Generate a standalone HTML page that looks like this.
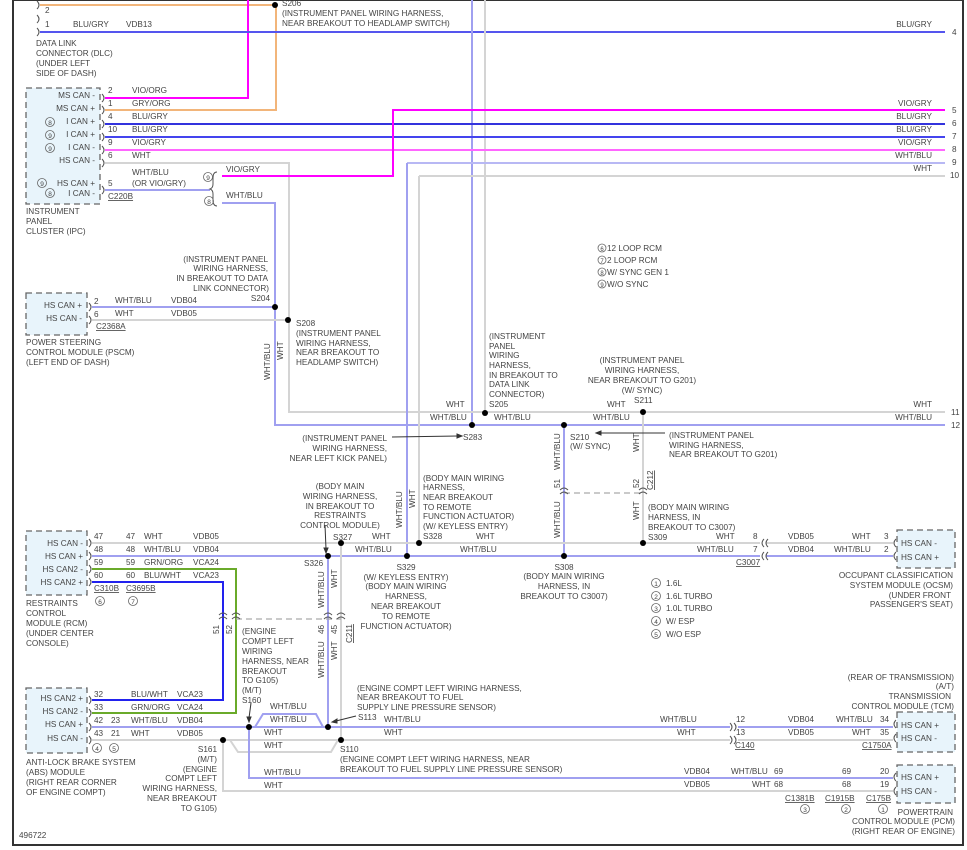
<!DOCTYPE html>
<html><head><meta charset="utf-8"><style>
html,body{margin:0;padding:0;background:#fff;}
svg{display:block;}
text{font-family:"Liberation Sans",sans-serif;font-size:8.2px;fill:#444;}
.r{text-anchor:end}.m{text-anchor:middle}
</style></head><body>
<svg width="967" height="850" viewBox="0 0 967 850" xmlns="http://www.w3.org/2000/svg">
<rect x="0" y="0" width="967" height="850" fill="#fff"/>
<!-- frame -->
<path d="M13 0V845H963V0" fill="none" stroke="#333" stroke-width="2"/>
<line x1="13" y1="0.5" x2="963" y2="0.5" stroke="#333" stroke-width="1"/>

<g fill="none" stroke-width="2">
<!-- top orange -->
<path d="M40 5H275" stroke="#f2b57a"/>
<path d="M105 110H276V5" stroke="#f2b57a"/>
<path d="M105 98H248V0" stroke="#ff00ff"/>
<path d="M40 32H945" stroke="#5555ee"/>
<!-- verticals from top -->
<path d="M472 0V425" stroke="#a0a0f0"/>
<path d="M485 0V413" stroke="#d4d4d4"/>
<!-- IPC wires -->
<path d="M105 124H945" stroke="#3333dd"/>
<path d="M105 137H945" stroke="#4444ee"/>
<path d="M105 150H945" stroke="#ff66ff"/>
<path d="M105 163H289V412H945" stroke="#d4d4d4"/>
<path d="M407 163H945" stroke="#b8b8f4"/>
<path d="M419 176H945" stroke="#d4d4d4"/>
<path d="M105 190H210" stroke="#a0a0f0"/>
<path d="M222 176H393V110H945" stroke="#ff00ff"/>
<path d="M222 203H275V425H945" stroke="#a0a0f0"/>
<!-- PSCM -->
<path d="M92 307H275" stroke="#a0a0f0"/>
<path d="M92 320H288" stroke="#d4d4d4"/>
<!-- body -->
<path d="M407 163V556" stroke="#a0a0f0"/>
<path d="M419 176V543" stroke="#d4d4d4"/>
<path d="M564 425V556" stroke="#a0a0f0"/>
<path d="M643 412V543" stroke="#d4d4d4"/>
<path d="M92 543H760M766 543H893" stroke="#d4d4d4"/>
<path d="M92 556H760M766 556H893" stroke="#a0a0f0"/>
<path d="M92 569H236V713H92" stroke="#6aaa2a"/>
<path d="M92 582H223V700H92" stroke="#2222ee"/>
<path d="M328 556V727" stroke="#a0a0f0"/>
<path d="M341 543V740" stroke="#d4d4d4"/>
<!-- lower -->
<path d="M92 727H730M738 727H893" stroke="#a0a0f0"/>
<path d="M92 740H730M738 740H893" stroke="#d4d4d4"/>
<path d="M255 727L263 714H316L323 727" stroke="#a0a0f0"/>
<path d="M230 740L238 752H331L338 740" stroke="#d4d4d4"/>
<path d="M249 727V778H893" stroke="#a0a0f0"/>
<path d="M223 740V791H893" stroke="#d4d4d4"/>
</g>
<g stroke="#aaa" stroke-width="1.3" stroke-dasharray="6,4" fill="none">
<path d="M236 619H341"/><path d="M564 493H643"/>
</g>

<!-- boxes -->
<g fill="#e8f4fb" stroke="#666" stroke-width="1.3" stroke-dasharray="6,4">
<rect x="26" y="88" width="74" height="116"/>
<rect x="26" y="293" width="61" height="42"/>
<rect x="26" y="531" width="61" height="64"/>
<rect x="26" y="688" width="61" height="65"/>
<rect x="897" y="530" width="58" height="38"/>
<rect x="897" y="712" width="58" height="40"/>
<rect x="897" y="765" width="58" height="38"/>
</g>

<!-- dots -->
<g fill="#000">
<circle cx="275" cy="5" r="3"/><circle cx="275" cy="307" r="3"/><circle cx="288" cy="320" r="3"/>
<circle cx="485" cy="413" r="3"/><circle cx="472" cy="425" r="3"/><circle cx="564" cy="425" r="3"/><circle cx="643" cy="412" r="3"/>
<circle cx="341" cy="543" r="3"/><circle cx="328" cy="556" r="3"/><circle cx="407" cy="556" r="3"/><circle cx="419" cy="543" r="3"/>
<circle cx="564" cy="556" r="3"/><circle cx="643" cy="543" r="3"/>
<circle cx="249" cy="727" r="3"/><circle cx="328" cy="727" r="3"/><circle cx="223" cy="740" r="3"/><circle cx="341" cy="740" r="3"/>
</g>

<!-- pin brackets -->
<g fill="none" stroke="#555" stroke-width="1">
<path d="M37 1q4 4 0 8M37 15q4 4 0 8M37 28q4 4 0 8"/>
<path d="M102 94q4 4 0 8M102 106q4 4 0 8M102 120q4 4 0 8M102 133q4 4 0 8M102 146q4 4 0 8M102 159q4 4 0 8M102 186q4 4 0 8"/>
<path d="M89 303q4 4 0 8M89 316q4 4 0 8"/>
<path d="M89 539q4 4 0 8M89 552q4 4 0 8M89 565q4 4 0 8M89 578q4 4 0 8"/>
<path d="M89 696q4 4 0 8M89 709q4 4 0 8M89 723q4 4 0 8M89 736q4 4 0 8"/>
<path d="M217 172q-4 0-4 6v6q0 4-3 5q3 1 3 5v6q0 6 4 6"/>
<path d="M764 539q-4 4 0 8M768 539q-4 4 0 8M764 552q-4 4 0 8M768 552q-4 4 0 8"/>
<path d="M730 723q4 4 0 8M734 723q4 4 0 8M730 736q4 4 0 8M734 736q4 4 0 8"/>
<path d="M896 539q-4 4 0 8M896 552q-4 4 0 8M896 720q-4 4 0 8M896 734q-4 4 0 8M896 773q-4 4 0 8M896 787q-4 4 0 8"/>
<path d="M219 615q4-4 8 0M219 619q4-4 8 0M232 615q4-4 8 0M232 619q4-4 8 0M324 615q4-4 8 0M324 619q4-4 8 0M337 615q4-4 8 0M337 619q4-4 8 0"/>
<path d="M560 490q4-4 8 0M560 494q4-4 8 0M639 490q4-4 8 0M639 494q4-4 8 0"/>
</g>
<!-- arrows -->
<g stroke="#333" stroke-width="1" fill="#333">
<path d="M392 437L458 436" fill="none"/><path d="M462 436l-5-2v4z"/>
<path d="M665 433L600 433" fill="none"/><path d="M596 433l5-2v4z"/>
<path d="M325 525L326 549" fill="none"/><path d="M326 553l-2-5h4z"/>
<path d="M251 703L249 718" fill="none"/><path d="M249 722l-2-5h4z"/>
<path d="M356 716L336 721" fill="none"/><path d="M332 722l5-3v4z"/>
</g>

<!-- texts -->
<text x="282" y="6">S206</text>
<text x="282" y="16">(INSTRUMENT PANEL WIRING HARNESS,</text>
<text x="282" y="26">NEAR BREAKOUT TO HEADLAMP SWITCH)</text>
<text x="45" y="13">2</text><text x="45" y="27">1</text><text x="73" y="27">BLU/GRY</text><text x="126" y="27">VDB13</text>
<text x="36" y="46">DATA LINK</text><text x="36" y="56">CONNECTOR (DLC)</text><text x="36" y="66">(UNDER LEFT</text><text x="36" y="76">SIDE OF DASH)</text>
<text class="r" x="932" y="27">BLU/GRY</text><text x="952" y="35">4</text>
<text class="r" x="932" y="106">VIO/GRY</text><text x="952" y="113">5</text>
<text class="r" x="932" y="119">BLU/GRY</text><text x="952" y="126">6</text>
<text class="r" x="932" y="132">BLU/GRY</text><text x="952" y="139">7</text>
<text class="r" x="932" y="145">VIO/GRY</text><text x="952" y="152">8</text>
<text class="r" x="932" y="158">WHT/BLU</text><text x="952" y="165">9</text>
<text class="r" x="932" y="171">WHT</text><text x="950" y="178">10</text>
<text class="r" x="932" y="407">WHT</text><text x="951" y="415">11</text>
<text class="r" x="932" y="420">WHT/BLU</text><text x="951" y="428">12</text>

<!-- IPC -->
<g class="r">
<text class="r" x="95" y="98">MS CAN -</text><text class="r" x="95" y="111">MS CAN +</text>
<text class="r" x="95" y="124">I CAN +</text><text class="r" x="95" y="137">I CAN +</text>
<text class="r" x="95" y="150">I CAN -</text><text class="r" x="95" y="163">HS CAN -</text>
<text class="r" x="95" y="186">HS CAN +</text><text class="r" x="95" y="196">I CAN -</text>
</g>
<g fill="none" stroke="#666" stroke-width="0.8">
<circle cx="50" cy="122" r="4.5"/><circle cx="50" cy="135" r="4.5"/><circle cx="50" cy="148" r="4.5"/><circle cx="42" cy="183" r="4.5"/><circle cx="50" cy="193" r="4.5"/>
<circle cx="208" cy="177" r="4.5"/><circle cx="209" cy="201" r="4.5"/>
<circle cx="100" cy="601" r="4.5"/><circle cx="133" cy="601" r="4.5"/>
<circle cx="97" cy="748" r="4.5"/><circle cx="114" cy="748" r="4.5"/>
<circle cx="602" cy="248" r="4"/><circle cx="602" cy="260" r="4"/><circle cx="602" cy="272" r="4"/><circle cx="602" cy="284" r="4"/>
<circle cx="656" cy="583" r="4.5"/><circle cx="656" cy="596" r="4.5"/><circle cx="656" cy="608" r="4.5"/><circle cx="656" cy="621" r="4.5"/><circle cx="656" cy="634" r="4.5"/>
<circle cx="805" cy="809" r="4.5"/><circle cx="846" cy="809" r="4.5"/><circle cx="883" cy="809" r="4.5"/>
</g>
<g class="m" font-size="6.5">
<text class="m" x="50" y="125" style="font-size:6.5px">8</text><text class="m" x="50" y="138" style="font-size:6.5px">9</text><text class="m" x="50" y="151" style="font-size:6.5px">9</text><text class="m" x="42" y="186" style="font-size:6.5px">9</text><text class="m" x="50" y="196" style="font-size:6.5px">8</text>
<text class="m" x="208" y="180" style="font-size:6.5px">9</text><text class="m" x="209" y="204" style="font-size:6.5px">8</text>
<text class="m" x="100" y="604" style="font-size:6.5px">6</text><text class="m" x="133" y="604" style="font-size:6.5px">7</text>
<text class="m" x="97" y="751" style="font-size:6.5px">4</text><text class="m" x="114" y="751" style="font-size:6.5px">5</text>
<text class="m" x="602" y="251" style="font-size:6px">6</text><text class="m" x="602" y="263" style="font-size:6px">7</text><text class="m" x="602" y="275" style="font-size:6px">8</text><text class="m" x="602" y="287" style="font-size:6px">9</text>
<text class="m" x="656" y="586" style="font-size:6.5px">1</text><text class="m" x="656" y="599" style="font-size:6.5px">2</text><text class="m" x="656" y="611" style="font-size:6.5px">3</text><text class="m" x="656" y="624" style="font-size:6.5px">4</text><text class="m" x="656" y="637" style="font-size:6.5px">5</text>
<text class="m" x="805" y="812" style="font-size:6.5px">3</text><text class="m" x="846" y="812" style="font-size:6.5px">2</text><text class="m" x="883" y="812" style="font-size:6.5px">1</text>
</g>
<text x="108" y="93">2</text><text x="108" y="106">1</text><text x="108" y="119">4</text><text x="108" y="132">10</text><text x="108" y="145">9</text><text x="108" y="158">6</text><text x="108" y="186">5</text>
<text x="132" y="93">VIO/ORG</text><text x="132" y="106">GRY/ORG</text><text x="132" y="119">BLU/GRY</text><text x="132" y="132">BLU/GRY</text><text x="132" y="145">VIO/GRY</text><text x="132" y="158">WHT</text>
<text x="132" y="175">WHT/BLU</text><text x="132" y="186">(OR VIO/GRY)</text>
<text x="108" y="199" text-decoration="underline">C220B</text>
<text x="226" y="172">VIO/GRY</text><text x="226" y="198">WHT/BLU</text>
<text x="26" y="214">INSTRUMENT</text><text x="26" y="224">PANEL</text><text x="26" y="234">CLUSTER (IPC)</text>

<text x="607" y="251">12 LOOP RCM</text><text x="607" y="263">2 LOOP RCM</text><text x="607" y="275">W/ SYNC GEN 1</text><text x="607" y="287">W/O SYNC</text>

<!-- PSCM -->
<text class="r" x="82" y="308">HS CAN +</text><text class="r" x="82" y="321">HS CAN -</text>
<text x="94" y="304">2</text><text x="94" y="317">6</text>
<text x="115" y="303">WHT/BLU</text><text x="171" y="303">VDB04</text><text x="115" y="316">WHT</text><text x="171" y="316">VDB05</text>
<text x="96" y="329" text-decoration="underline">C2368A</text>
<text x="26" y="345">POWER STEERING</text><text x="26" y="355">CONTROL MODULE (PSCM)</text><text x="26" y="365">(LEFT END OF DASH)</text>
<text class="r" x="268" y="262">(INSTRUMENT PANEL</text><text class="r" x="268" y="271">WIRING HARNESS,</text><text class="r" x="268" y="281">IN BREAKOUT TO DATA</text><text class="r" x="269" y="291">LINK CONNECTOR)</text><text class="r" x="270" y="301">S204</text>
<text x="296" y="326">S208</text><text x="296" y="336">(INSTRUMENT PANEL</text><text x="296" y="346">WIRING HARNESS,</text><text x="296" y="355">NEAR BREAKOUT TO</text><text x="296" y="365">HEADLAMP SWITCH)</text>
<text transform="translate(270,380) rotate(-90)">WHT/BLU</text><text transform="translate(283,360) rotate(-90)">WHT</text>

<!-- mid -->
<text x="489" y="339">(INSTRUMENT</text><text x="489" y="349">PANEL</text><text x="489" y="358">WIRING</text><text x="489" y="368">HARNESS,</text><text x="489" y="378">IN BREAKOUT TO</text><text x="489" y="387">DATA LINK</text><text x="489" y="397">CONNECTOR)</text><text x="489" y="407">S205</text>
<text x="446" y="407">WHT</text><text x="430" y="420">WHT/BLU</text><text x="494" y="420">WHT/BLU</text><text x="607" y="407">WHT</text><text x="593" y="420">WHT/BLU</text>
<text class="m" x="642" y="363">(INSTRUMENT PANEL</text><text class="m" x="642" y="373">WIRING HARNESS,</text><text class="m" x="642" y="383">NEAR BREAKOUT TO G201)</text><text class="m" x="642" y="393">(W/ SYNC)</text><text x="634" y="403">S211</text>
<text class="r" x="387" y="441">(INSTRUMENT PANEL</text><text class="r" x="387" y="451">WIRING HARNESS,</text><text class="r" x="387" y="461">NEAR LEFT KICK PANEL)</text><text x="463" y="440">S283</text>
<text x="570" y="440">S210</text><text x="570" y="449">(W/ SYNC)</text>
<text x="669" y="438">(INSTRUMENT PANEL</text><text x="669" y="448">WIRING HARNESS,</text><text x="669" y="457">NEAR BREAKOUT TO G201)</text>
<text transform="translate(560,470) rotate(-90)">WHT/BLU</text><text transform="translate(560,488) rotate(-90)">51</text>
<text transform="translate(639,452) rotate(-90)">WHT</text><text transform="translate(639,488) rotate(-90)">52</text>
<text transform="translate(653,490) rotate(-90)" text-decoration="underline">C212</text>
<text transform="translate(560,538) rotate(-90)">WHT/BLU</text><text transform="translate(639,520) rotate(-90)">WHT</text>
<text x="648" y="510">(BODY MAIN WIRING</text><text x="648" y="520">HARNESS, IN</text><text x="648" y="530">BREAKOUT TO C3007)</text><text x="648" y="540">S309</text>
<text class="m" x="564" y="570">S308</text><text class="m" x="564" y="579">(BODY MAIN WIRING</text><text class="m" x="564" y="589">HARNESS, IN</text><text class="m" x="564" y="599">BREAKOUT TO C3007)</text>
<text x="423" y="481">(BODY MAIN WIRING</text><text x="423" y="490">HARNESS,</text><text x="423" y="500">NEAR BREAKOUT</text><text x="423" y="510">TO REMOTE</text><text x="423" y="519">FUNCTION ACTUATOR)</text><text x="423" y="529">(W/ KEYLESS ENTRY)</text><text x="423" y="539">S328</text>
<text x="476" y="539">WHT</text><text x="460" y="552">WHT/BLU</text>
<text class="m" x="406" y="570">S329</text><text class="m" x="406" y="580">(W/ KEYLESS ENTRY)</text><text class="m" x="406" y="589">(BODY MAIN WIRING</text><text class="m" x="406" y="599">HARNESS,</text><text class="m" x="406" y="609">NEAR BREAKOUT</text><text class="m" x="406" y="619">TO REMOTE</text><text class="m" x="406" y="629">FUNCTION ACTUATOR)</text>
<text transform="translate(402,528) rotate(-90)">WHT/BLU</text><text transform="translate(415,508) rotate(-90)">WHT</text>
<text class="m" x="340" y="489">(BODY MAIN</text><text class="m" x="340" y="499">WIRING HARNESS,</text><text class="m" x="340" y="509">IN BREAKOUT TO</text><text class="m" x="340" y="518">RESTRAINTS</text><text class="m" x="340" y="528">CONTROL MODULE)</text>
<text x="333" y="540">S327</text><text x="372" y="539">WHT</text><text x="355" y="552">WHT/BLU</text><text x="304" y="566">S326</text>
<text transform="translate(324,608) rotate(-90)">WHT/BLU</text><text transform="translate(337,588) rotate(-90)">WHT</text>
<text transform="translate(324,634) rotate(-90)">46</text><text transform="translate(337,634) rotate(-90)">45</text>
<text transform="translate(352,643) rotate(-90)" text-decoration="underline">C211</text>
<text transform="translate(324,678) rotate(-90)">WHT/BLU</text><text transform="translate(337,660) rotate(-90)">WHT</text>
<text transform="translate(219,634) rotate(-90)">51</text><text transform="translate(232,634) rotate(-90)">52</text>

<!-- C3007 / OCSM -->
<text x="753" y="539">8</text><text x="753" y="552">7</text>
<text x="716" y="539">WHT</text><text x="697" y="552">WHT/BLU</text>
<text x="788" y="539">VDB05</text><text x="852" y="539">WHT</text><text x="788" y="552">VDB04</text><text x="834" y="552">WHT/BLU</text>
<text x="884" y="539">3</text><text x="884" y="552">2</text>
<text x="736" y="565" text-decoration="underline">C3007</text>
<text x="901" y="546">HS CAN -</text><text x="901" y="560">HS CAN +</text>
<text class="r" x="953" y="578">OCCUPANT CLASSIFICATION</text><text class="r" x="953" y="588">SYSTEM MODULE (OCSM)</text><text class="r" x="951" y="598">(UNDER FRONT</text><text class="r" x="953" y="607">PASSENGER'S SEAT)</text>
<text x="666" y="586">1.6L</text><text x="666" y="599">1.6L TURBO</text><text x="666" y="611">1.0L TURBO</text><text x="666" y="624">W/ ESP</text><text x="666" y="637">W/O ESP</text>

<!-- RCM -->
<text class="r" x="83" y="546">HS CAN -</text><text class="r" x="83" y="559">HS CAN +</text><text class="r" x="83" y="572">HS CAN2 -</text><text class="r" x="83" y="585">HS CAN2 +</text>
<text x="94" y="539">47</text><text x="94" y="552">48</text><text x="94" y="565">59</text><text x="94" y="578">60</text>
<text x="126" y="539">47</text><text x="126" y="552">48</text><text x="126" y="565">59</text><text x="126" y="578">60</text>
<text x="144" y="539">WHT</text><text x="144" y="552">WHT/BLU</text><text x="144" y="565">GRN/ORG</text><text x="144" y="578">BLU/WHT</text>
<text x="193" y="539">VDB05</text><text x="193" y="552">VDB04</text><text x="193" y="565">VCA24</text><text x="193" y="578">VCA23</text>
<text x="94" y="591" text-decoration="underline">C310B</text><text x="126" y="591" text-decoration="underline">C3695B</text>
<text x="26" y="606">RESTRAINTS</text><text x="26" y="616">CONTROL</text><text x="26" y="626">MODULE (RCM)</text><text x="26" y="636">(UNDER CENTER</text><text x="26" y="646">CONSOLE)</text>

<!-- engine compt -->
<text x="242" y="634">(ENGINE</text><text x="242" y="644">COMPT LEFT</text><text x="242" y="654">WIRING</text><text x="242" y="664">HARNESS, NEAR</text><text x="242" y="674">BREAKOUT</text><text x="242" y="683">TO G105)</text><text x="242" y="693">(M/T)</text><text x="242" y="703">S160</text>
<text x="357" y="691">(ENGINE COMPT LEFT WIRING HARNESS,</text><text x="357" y="700">NEAR BREAKOUT TO FUEL</text><text x="357" y="710">SUPPLY LINE PRESSURE SENSOR)</text><text x="358" y="720">S113</text><text x="384" y="722">WHT/BLU</text>
<text x="270" y="709">WHT/BLU</text><text x="270" y="722">WHT/BLU</text><text x="264" y="735">WHT</text><text x="264" y="748">WHT</text><text x="384" y="735">WHT</text>
<text x="340" y="752">S110</text><text x="340" y="762">(ENGINE COMPT LEFT WIRING HARNESS, NEAR</text><text x="340" y="772">BREAKOUT TO FUEL SUPPLY LINE PRESSURE SENSOR)</text>
<text class="r" x="217" y="752">S161</text><text class="r" x="217" y="762">(M/T)</text><text class="r" x="217" y="772">(ENGINE</text><text class="r" x="217" y="781">COMPT LEFT</text><text class="r" x="217" y="791">WIRING HARNESS,</text><text class="r" x="217" y="801">NEAR BREAKOUT</text><text class="r" x="217" y="811">TO G105)</text>
<text x="264" y="775">WHT/BLU</text><text x="264" y="788">WHT</text>

<!-- ABS -->
<text class="r" x="83" y="701">HS CAN2 +</text><text class="r" x="83" y="714">HS CAN2 -</text><text class="r" x="83" y="727">HS CAN +</text><text class="r" x="83" y="741">HS CAN -</text>
<text x="94" y="697">32</text><text x="94" y="710">33</text><text x="94" y="723">42</text><text x="94" y="736">43</text>
<text x="111" y="723">23</text><text x="111" y="736">21</text>
<text x="131" y="697">BLU/WHT</text><text x="177" y="697">VCA23</text><text x="131" y="710">GRN/ORG</text><text x="177" y="710">VCA24</text>
<text x="131" y="723">WHT/BLU</text><text x="177" y="723">VDB04</text><text x="131" y="736">WHT</text><text x="177" y="736">VDB05</text>
<text x="26" y="765">ANTI-LOCK BRAKE SYSTEM</text><text x="26" y="775">(ABS) MODULE</text><text x="26" y="785">(RIGHT REAR CORNER</text><text x="26" y="795">OF ENGINE COMPT)</text>
<text x="19" y="838">496722</text>

<!-- TCM -->
<text x="660" y="722">WHT/BLU</text><text x="677" y="735">WHT</text>
<text x="736" y="722">12</text><text x="736" y="735">13</text><text x="735" y="748" text-decoration="underline">C140</text>
<text x="788" y="722">VDB04</text><text x="836" y="722">WHT/BLU</text><text x="880" y="722">34</text>
<text x="788" y="735">VDB05</text><text x="852" y="735">WHT</text><text x="880" y="735">35</text>
<text x="862" y="748" text-decoration="underline">C1750A</text>
<text x="901" y="728">HS CAN +</text><text x="901" y="741">HS CAN -</text>
<text class="r" x="954" y="680">(REAR OF TRANSMISSION)</text><text class="r" x="954" y="689">(A/T)</text><text class="r" x="951" y="699">TRANSMISSION</text><text class="r" x="954" y="709">CONTROL MODULE (TCM)</text>

<!-- PCM -->
<text x="684" y="774">VDB04</text><text x="731" y="774">WHT/BLU</text><text x="774" y="774">69</text><text x="842" y="774">69</text><text x="880" y="774">20</text>
<text x="684" y="787">VDB05</text><text x="752" y="787">WHT</text><text x="774" y="787">68</text><text x="842" y="787">68</text><text x="880" y="787">19</text>
<text x="785" y="801" text-decoration="underline">C1381B</text><text x="825" y="801" text-decoration="underline">C1915B</text><text x="866" y="801" text-decoration="underline">C175B</text>
<text x="901" y="780">HS CAN +</text><text x="901" y="794">HS CAN -</text>
<text class="r" x="953" y="815">POWERTRAIN</text><text class="r" x="955" y="824">CONTROL MODULE (PCM)</text><text class="r" x="955" y="834">(RIGHT REAR OF ENGINE)</text>
</svg>
</body></html>
